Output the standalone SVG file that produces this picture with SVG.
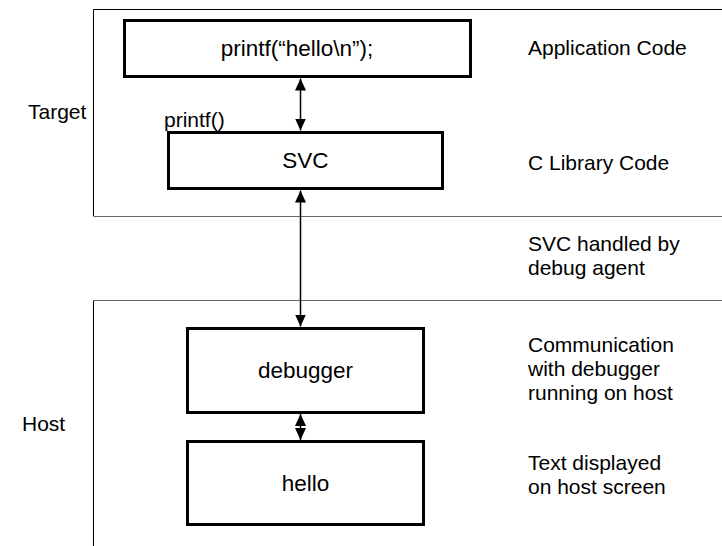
<svg xmlns="http://www.w3.org/2000/svg" width="722" height="546" viewBox="0 0 722 546">
<style>
text{font-family:"Liberation Sans",Arial,sans-serif;font-size:21px;fill:#000}
.c{text-anchor:middle;dominant-baseline:central;font-size:22.5px}
.l{dominant-baseline:central}
.box{fill:#fff;stroke:#000;stroke-width:3}
.pane{fill:none;stroke-width:1}
.arr{stroke:#000;stroke-width:1.5;fill:none;marker-start:url(#ah);marker-end:url(#ah)}
</style>
<defs>
<marker id="ah" markerUnits="userSpaceOnUse" markerWidth="13" markerHeight="12" viewBox="0 0 13 12" refX="12" refY="6" orient="auto-start-reverse">
<path d="M0,0.5 L12,6 L0,11.5 Z" fill="#000"/>
</marker>
</defs>
<g id="panels">
<path class="pane" stroke="#000" d="M722,9.5 H93.5 V216"/>
<path class="pane" stroke="#666" d="M93.5,216.5 H722"/>
<path class="pane" stroke="#666" d="M722,300.5 H93.5"/>
<path class="pane" stroke="#000" d="M93.5,300.5 V546"/>
</g>
<g id="labels">
<text class="l" x="28" y="111">Target</text>
<text class="l" x="22" y="423">Host</text>
<text x="164" y="127">printf()</text>
<text class="l" x="528" y="47">Application Code</text>
<text class="l" x="528" y="162">C Library Code</text>
<text class="l" x="528" y="243">SVC handled by</text>
<text class="l" x="528" y="267">debug agent</text>
<text class="l" x="528" y="344">Communication</text>
<text class="l" x="528" y="368">with debugger</text>
<text class="l" x="528" y="392">running on host</text>
<text class="l" x="528" y="462">Text displayed</text>
<text class="l" x="528" y="486">on host screen</text>
</g>
<g id="connectors">
<line class="arr" x1="300.5" y1="78.5" x2="300.5" y2="130.5"/>
<line class="arr" x1="300.5" y1="190.5" x2="300.5" y2="326.5"/>
<line class="arr" x1="300.5" y1="414" x2="300.5" y2="440"/>
</g>
<g id="app">
<rect class="box" x="124.5" y="20.5" width="346" height="56"/>
<text class="c" x="297" y="48.5">printf(“hello\n”);</text>
</g>
<g id="svc">
<rect class="box" x="168.5" y="132.5" width="274" height="56"/>
<text class="c" x="305.5" y="160.5">SVC</text>
</g>
<g id="debugger">
<rect class="box" x="187.5" y="328.5" width="236" height="84"/>
<text class="c" x="305.5" y="370.5">debugger</text>
</g>
<g id="hello">
<rect class="box" x="187.5" y="441.5" width="236" height="83"/>
<text class="c" x="305.5" y="483">hello</text>
</g>
</svg>
